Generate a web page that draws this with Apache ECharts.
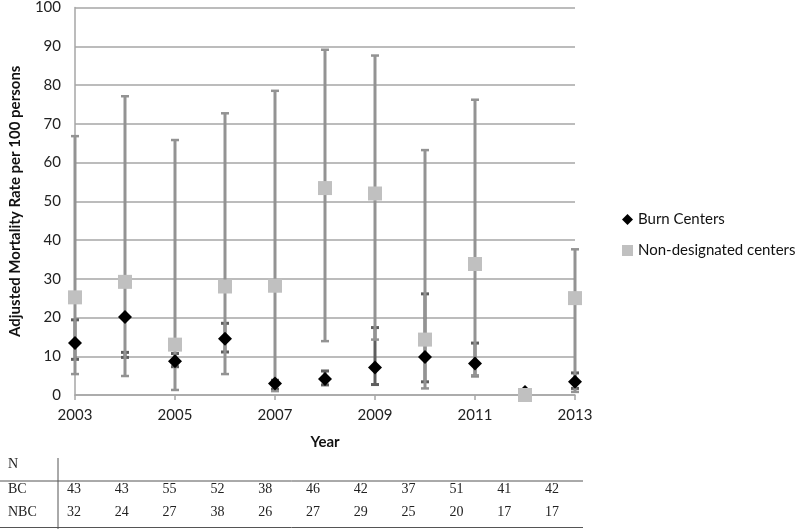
<!DOCTYPE html>
<html>
<head>
<meta charset="utf-8">
<script src="https://cdn.jsdelivr.net/npm/echarts@6/dist/echarts.min.js"></script>
<style>html,body{margin:0;padding:0;background:#fff;}#chart{width:800px;height:529px;}</style>
</head>
<body>
<div id="chart"></div>
<script>
const years = ['2003','2004','2005','2006','2007','2008','2009','2010','2011','2012','2013'];
const bcRate  = [13.4, 20.1, 8.7, 14.5, 3.0, 4.1, 7.1, 9.8, 8.1, 0.8, 3.4];
const bcLow   = [9.2, 9.7, 7.3, 11.1, 1.5, 2.6, 2.7, 3.4, 4.9, null, 1.7];
const bcHigh  = [19.4, 11.0, 10.7, 18.5, 3.8, 6.2, 17.4, 26.1, 13.4, null, 5.7];
const nbcRate = [25.2, 29.2, 13.0, 28.0, 28.2, 53.4, 52.0, 14.3, 33.8, 0, 25.0];
const nbcLow  = [5.4, 4.9, 1.3, 5.4, 1.0, 13.9, 14.3, 1.7, 5.0, null, 0.8];
const nbcHigh = [66.8, 77.1, 65.8, 72.7, 78.5, 89.1, 87.6, 63.2, 76.2, null, 37.6];
const bcN  = [43, 43, 55, 52, 38, 46, 42, 37, 51, 41, 42];
const nbcN = [32, 24, 27, 38, 26, 27, 29, 25, 20, 17, 17];
const rowLabels = ['N', 'BC', 'NBC'];

function barData(lo, hi) {
  const out = [];
  for (let i = 0; i < lo.length; i++) if (lo[i] != null) out.push([i, lo[i], hi[i]]);
  return out;
}
function makeRender(color, lw, capW, capLw) {
  return function (params, api) {
    const x = api.value(0);
    const lo = api.coord([x, api.value(1)]);
    const hi = api.coord([x, api.value(2)]);
    const st = { stroke: color, lineWidth: lw };
    const cs = { stroke: color, lineWidth: capLw };
    return { type: 'group', children: [
      { type: 'line', shape: { x1: lo[0], y1: lo[1], x2: hi[0], y2: hi[1] }, style: st },
      { type: 'line', shape: { x1: lo[0] - capW / 2, y1: lo[1], x2: lo[0] + capW / 2, y2: lo[1] }, style: cs },
      { type: 'line', shape: { x1: hi[0] - capW / 2, y1: hi[1], x2: hi[0] + capW / 2, y2: hi[1] }, style: cs }
    ]};
  };
}

// table graphics
const tFont = '14px "Liberation Serif"';
const colX0 = 67, colStep = 47.8;
const rowY = [465, 490, 513];
const graphics = [];
rowLabels.forEach((t, r) => graphics.push({ type: 'text', left: 8, top: rowY[r] - 8, style: { text: t, font: tFont, fill: '#222' } }));
[bcN, nbcN].forEach((arr, r) => arr.forEach((v, i) => graphics.push({
  type: 'text', left: colX0 + colStep * i, top: rowY[r + 1] - 8, style: { text: String(v), font: tFont, fill: '#222' }
})));
graphics.push({ type: 'line', shape: { x1: 0, y1: 481, x2: 583, y2: 481 }, style: { stroke: '#555', lineWidth: 1 } });
graphics.push({ type: 'line', shape: { x1: 0, y1: 527.5, x2: 583, y2: 527.5 }, style: { stroke: '#555', lineWidth: 1 } });
graphics.push({ type: 'line', shape: { x1: 58, y1: 458, x2: 58, y2: 529 }, style: { stroke: '#555', lineWidth: 1 } });

const chart = echarts.init(document.getElementById('chart'));
chart.setOption({
  animation: false,
  backgroundColor: '#fff',
  grid: { left: 65, right: 225, top: 5, bottom: 134 },
  legend: {
    orient: 'vertical', left: 617, top: 207, itemWidth: 11, itemHeight: 11, itemGap: 16,
    textStyle: { fontFamily: 'Lato', fontSize: 15, color: '#111' },
    data: ['Burn Centers', 'Non-designated centers']
  },
  xAxis: {
    type: 'category', data: years, boundaryGap: false,
    name: 'Year', nameLocation: 'middle', nameGap: 40,
    nameTextStyle: { fontFamily: 'Lato', fontWeight: 'bold', fontSize: 15, color: '#111' },
    axisLine: { lineStyle: { color: '#a6a6a6', width: 1.5 } },
    axisTick: { interval: 1, length: 5, lineStyle: { color: '#a6a6a6', width: 1.5 } },
    axisLabel: { interval: 1, margin: 13, fontFamily: 'Lato', fontSize: 15, color: '#222' },
    splitLine: { show: false }
  },
  yAxis: {
    type: 'value', min: 0, max: 100, interval: 10,
    name: 'Adjusted Mortality Rate per 100 persons', nameLocation: 'middle', nameGap: 52,
    nameTextStyle: { fontFamily: 'Lato', fontWeight: 'bold', fontSize: 15, color: '#111' },
    axisLine: { show: true, lineStyle: { color: '#a6a6a6', width: 1.5 } },
    axisTick: { show: false },
    axisLabel: { margin: 14, fontFamily: 'Lato', fontSize: 15, color: '#222' },
    splitLine: { lineStyle: { color: '#a6a6a6', width: 1.5 } }
  },
  graphic: graphics,
  series: [
    { type: 'custom', name: 'bcErr', z: 2, renderItem: makeRender('#5e5e5e', 3, 8, 3),
      encode: { x: 0, y: [1, 2] }, data: barData(bcLow, bcHigh), silent: true },
    { type: 'custom', name: 'nbcErr', z: 3, renderItem: makeRender('#939393', 3, 8, 2.5),
      encode: { x: 0, y: [1, 2] }, data: barData(nbcLow, nbcHigh), silent: true },
    { type: 'scatter', name: 'Burn Centers', z: 4, symbol: 'diamond', symbolSize: 14,
      itemStyle: { color: '#000', opacity: 1 }, data: bcRate },
    { type: 'scatter', name: 'Non-designated centers', z: 5, symbol: 'rect', symbolSize: 14,
      itemStyle: { color: '#c0c0c0', opacity: 1 }, data: nbcRate }
  ]
});
</script>
</body>
</html>
